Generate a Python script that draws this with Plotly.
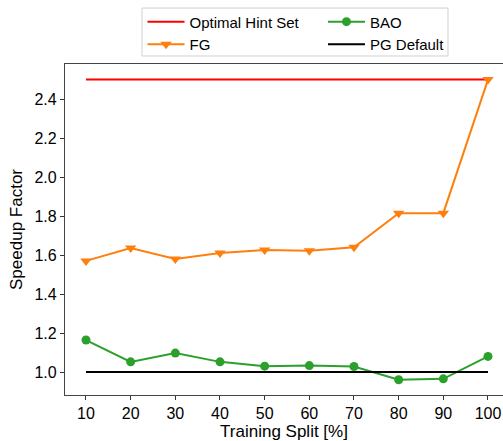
import plotly.graph_objects as go

# Training split percentages
splits = [10, 20, 30, 40, 50, 60, 70, 80, 90, 100]

# Speedup factors per method
optimal = [2.5] * len(splits)
fg = [1.57, 1.636, 1.58, 1.61, 1.626, 1.622, 1.64, 1.815, 1.815, 2.50]
bao = [1.164, 1.052, 1.097, 1.052, 1.03, 1.033, 1.028, 0.96, 0.965, 1.08]
pg_default = [1.0] * len(splits)

y_ticks = [1.0, 1.2, 1.4, 1.6, 1.8, 2.0, 2.2, 2.4]

FONT = "Liberation Sans, Arial, sans-serif"

fig = go.Figure()

fig.add_trace(go.Scatter(
    x=splits, y=optimal, mode="lines", name="Optimal Hint Set",
    line=dict(color="#ff0000", width=2), legend="legend",
))
fig.add_trace(go.Scatter(
    x=splits, y=fg, mode="lines+markers", name="FG",
    line=dict(color="#ff7f0e", width=2),
    marker=dict(symbol="triangle-down", size=10, color="#ff7f0e"),
    legend="legend",
))
fig.add_trace(go.Scatter(
    x=splits, y=bao, mode="lines+markers", name="BAO",
    line=dict(color="#2ca02c", width=2),
    marker=dict(symbol="circle", size=9, color="#2ca02c"),
    legend="legend2",
))
fig.add_trace(go.Scatter(
    x=splits, y=pg_default, mode="lines", name="PG Default",
    line=dict(color="#000000", width=2), legend="legend2",
))

legend_common = dict(
    orientation="v", xanchor="left", yanchor="top",
    bgcolor="rgba(0,0,0,0)", borderwidth=0,
    font=dict(family=FONT, size=15, color="#000000"),
    tracegroupgap=0, itemwidth=37,
)

fig.update_layout(
    width=503, height=441,
    margin=dict(l=65, r=0, t=64, b=46),
    paper_bgcolor="white", plot_bgcolor="white",
    font=dict(family=FONT, size=16, color="#000000"),
    showlegend=True,
    legend=dict(x=0.177, y=1.177, **legend_common),
    legend2=dict(x=0.589, y=1.177, **legend_common),
    shapes=[dict(
        type="rect", xref="paper", yref="paper",
        x0=0.1758, x1=0.8744, y0=1.0242, y1=1.169,
        line=dict(color="#d0d0d0", width=1), fillcolor="rgba(0,0,0,0)",
        layer="below",
    )],
    xaxis=dict(
        range=[5.3, 103.36], tickvals=splits, ticks="outside", ticklen=4,
        tickcolor="#333333", showgrid=False, zeroline=False,
        showline=True, linecolor="#444444", linewidth=1.2, mirror=True,
        title=dict(text="Training Split [%]", standoff=2,
                   font=dict(family=FONT, size=17)),
        tickfont=dict(family=FONT, size=16),
    ),
    yaxis=dict(
        range=[0.882, 2.58], tickvals=y_ticks,
        ticktext=[f"{v:.1f}" for v in y_ticks],
        ticks="outside", ticklen=4, tickcolor="#333333",
        showgrid=False, zeroline=False,
        showline=True, linecolor="#444444", linewidth=1.2,
        title=dict(text="Speedup Factor", standoff=7,
                   font=dict(family=FONT, size=17)),
        tickfont=dict(family=FONT, size=16),
    ),
)

fig.write_html("out.html")
